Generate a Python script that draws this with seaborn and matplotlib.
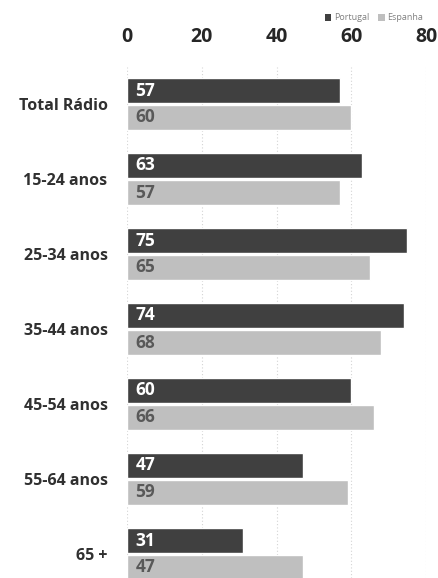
import matplotlib
matplotlib.use("Agg")
import matplotlib.pyplot as plt
import seaborn as sns
import pandas as pd
from matplotlib.patches import Patch

categories = ["Total Rádio", "15-24 anos", "25-34 anos", "35-44 anos", "45-54 anos", "55-64 anos", "65 +"]
portugal = [57, 63, 75, 74, 60, 47, 31]
espanha = [60, 57, 65, 68, 66, 59, 47]
series = ["Portugal", "Espanha"]
xticks = [0, 20, 40, 60, 80]

df = pd.DataFrame({
    "cat": categories * 2,
    "val": portugal + espanha,
    "serie": [series[0]] * len(categories) + [series[1]] * len(categories),
})

sns.set_theme(style="white")
plt.rcParams["font.family"] = ["Open Sans", "DejaVu Sans"]

fig = plt.figure(figsize=(4.38, 5.78), dpi=100)
ax = fig.add_axes([127 / 438, 0.0, 299 / 438, (578 - 66.5) / 578])

colors = {"Portugal": "#404040", "Espanha": "#bfbfbf"}
sns.barplot(data=df, y="cat", x="val", hue="serie", palette=colors, orient="h",
            width=0.72, gap=0.1, ax=ax, legend=False, saturation=1)

ax.set_xlim(0, 80)
ax.set_ylim(6.32, -0.5)
ax.set_xticks(xticks)
ax.xaxis.tick_top()
ax.tick_params(axis="x", length=0, pad=14, labelsize=14, labelcolor="#262626")
for lab in ax.get_xticklabels():
    lab.set_fontweight("bold")
ax.tick_params(axis="y", length=0, pad=14, labelsize=11.5, labelcolor="#303030")
for lab in ax.get_yticklabels():
    lab.set_fontweight("bold")
ax.set_xlabel("")
ax.set_ylabel("")
for s in ax.spines.values():
    s.set_visible(False)
ax.grid(axis="x", color="#d4d4d4", linestyle=(0, (1, 2)), linewidth=0.8)
ax.set_axisbelow(True)

# value labels
for cont, col in zip(ax.containers, ["white", "#595959"]):
    for bar in cont:
        w = bar.get_width()
        ax.text(2.3, bar.get_y() + bar.get_height() / 2, f"{int(round(w))}",
                va="center", ha="left", color=col, fontsize=12.5, fontweight="bold")

handles = [Patch(facecolor=colors[s], edgecolor="none") for s in series]
fig.legend(handles, series, loc="center right", bbox_to_anchor=(0.985, 1 - 18 / 578),
           ncol=2, frameon=False, fontsize=6.5, handlelength=0.7, handleheight=0.7,
           handletextpad=0.3, columnspacing=1.0, labelcolor="#808080")

fig.savefig("out.png", dpi=100)
